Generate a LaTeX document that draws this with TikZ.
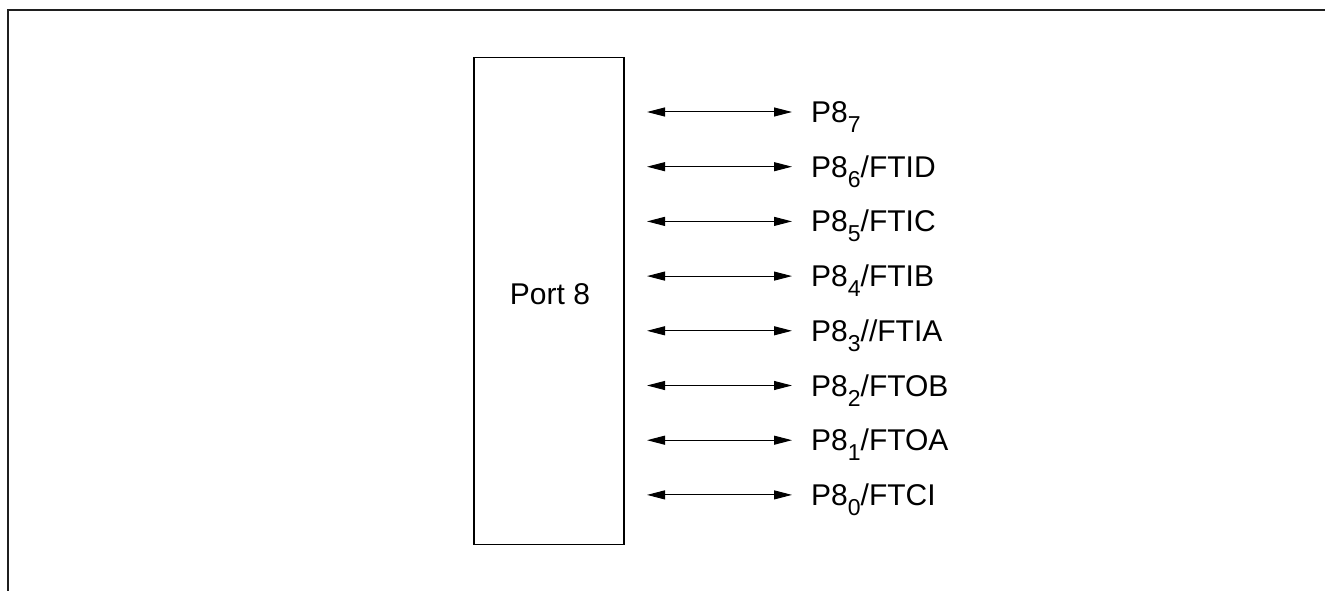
\documentclass[tikz,border=0pt]{standalone}
\usepackage{fontspec}
\setmainfont{Liberation Sans}
\usetikzlibrary{arrows.meta}
\newcommand{\mysub}[1]{\raisebox{-10pt}{\fontsize{23}{26}\selectfont #1}}
\begin{document}
\begin{tikzpicture}[x=1pt,y=-1pt,
  frameline/.style={line width=1.4pt,draw=black!88},
  portbox/.style={draw,line width=1.5pt,minimum width=150pt,minimum height=487pt,inner sep=0pt},
  boxtext/.style={inner sep=0pt,font=\fontsize{30}{36}\selectfont},
  sig/.style={line width=1pt,{Triangle[length=18pt,width=9pt]}-{Triangle[length=18pt,width=9pt]}},
  lbl/.style={anchor=base west,inner sep=0pt,font=\fontsize{30}{36}\selectfont}]
\useasboundingbox (0,0) rectangle (1325,591);
\coordinate (fa) at (8,591);
\coordinate (fb) at (8,10);
\coordinate (fc) at (1325,10);
\draw[frameline] (fa) -- (fb) -- (fc);
\node[portbox] (port) at (549,301) {};
\node[boxtext] (porttext) at (550,294) {Port 8};
\foreach \i/\t [count=\k from 0] in {7/{},6/{/FTID},5/{/FTIC},4/{/FTIB},3/{//FTIA},2/{/FTOB},1/{/FTOA},0/{/FTCI}} {
  \coordinate (l\i) at (647,112+54.7*\k);
  \coordinate (r\i) at (792,112+54.7*\k);
  \node[lbl] (t\i) at (811,122.5+54.7*\k) {P8\mysub{\i}\t};
  \draw[sig] (l\i) -- (r\i);
}
\end{tikzpicture}
\end{document}
